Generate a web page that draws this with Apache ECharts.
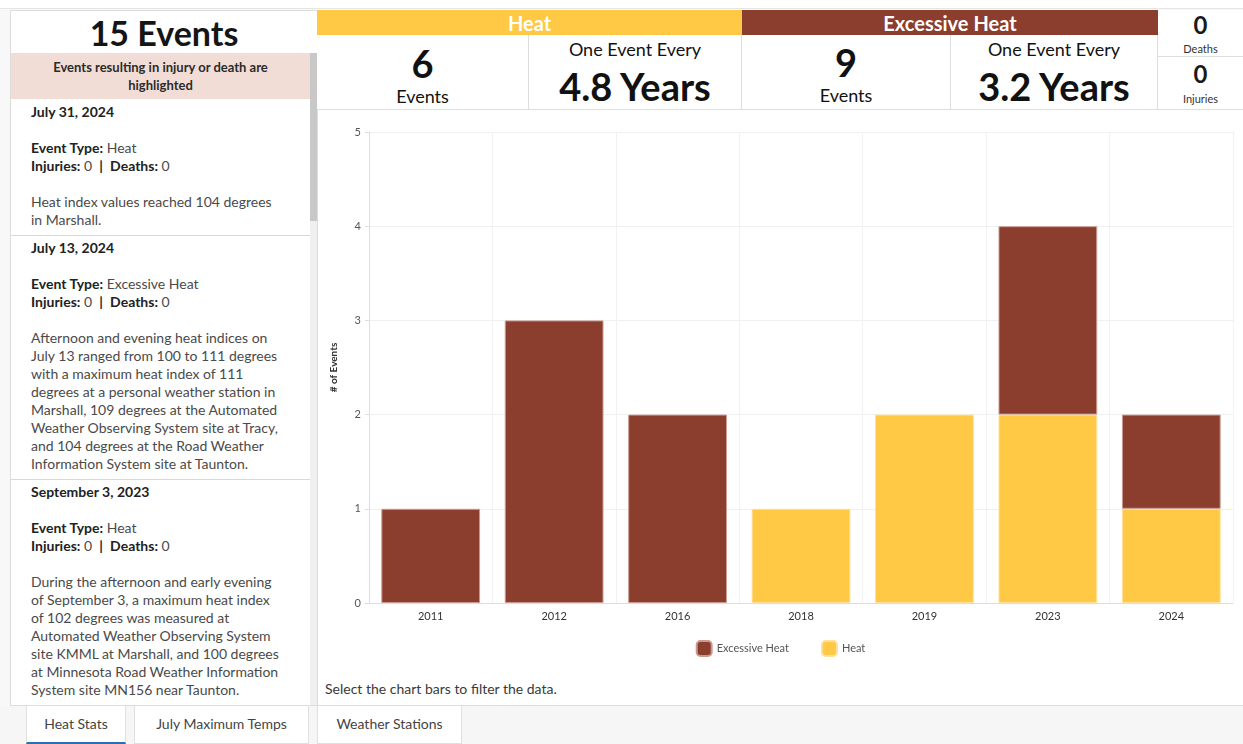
<!DOCTYPE html>
<html>
<head>
<meta charset="utf-8">
<script src="https://cdn.jsdelivr.net/npm/echarts@6/dist/echarts.min.js"></script>
<style>
  html,body{margin:0;padding:0;width:1243px;height:744px;overflow:hidden;background:#f8f8f8;font-family:Lato,"Noto Sans",sans-serif;color:#1a1a1a;}
  .abs{position:absolute;box-sizing:border-box;}
  #topline{left:0;top:0;width:1243px;height:9px;background:#fff;border-bottom:1px solid #e6e6e6;}
  #left{left:10px;top:10px;width:308px;height:696px;background:#fff;border:1px solid #ddd;overflow:hidden;}
  #total{left:0;top:0;width:306px;height:42px;text-align:center;font-size:34px;line-height:44px;font-weight:700;color:#151515;}
  #banner{left:0;top:42px;width:299px;height:46px;background:#f2ddd6;text-align:center;font-size:13px;font-weight:700;line-height:18px;padding-top:5px;color:#2b2b2b;}
  #track{left:299px;top:42px;width:8px;height:654px;background:#f0f0f0;}
  #thumb{left:299px;top:42px;width:8px;height:168px;background:#c8c8c8;}
  .item{left:0;width:299px;border-bottom:1px solid #d8d8d8;padding-left:20px;font-size:14px;line-height:18px;color:#4a4a4a;white-space:nowrap;}
  .item b{color:#222;}
  .date{font-weight:700;color:#222;}
  .hdr{top:10px;height:25px;color:#fff;font-weight:700;font-size:20px;text-align:center;line-height:26px;}
  .cell{top:35px;height:75px;background:#fff;border-right:1px solid #ddd;border-bottom:1px solid #ddd;text-align:center;color:#111;}
  .big{font-size:38px;font-weight:700;line-height:40px;}
  .lbl{font-size:18px;line-height:22px;}
  .sm{font-size:11px;line-height:13px;color:#333;}
  #chartwrap{left:318px;top:110px;width:925px;height:596px;background:#fff;border-bottom:1px solid #ddd;}
  #chart{left:0;top:0;width:925px;height:565px;}
  #note{left:7px;top:570px;font-size:14px;color:#3a3a3a;}
  #tabs{left:0;top:706px;width:1243px;height:38px;background:#f6f6f6;}
  .tab{top:0;height:38px;background:#fff;border:1px solid #e0e0e0;border-top:none;font-size:14px;color:#444;text-align:center;line-height:36px;}
</style>
</head>
<body>
<div class="abs" id="topline"></div>

<div class="abs" id="left">
  <div class="abs" id="total">15 Events</div>
  <div class="abs" id="banner">Events resulting in injury or death are<br>highlighted</div>
  <div class="abs" id="track"></div>
  <div class="abs" id="thumb"></div>
  <div class="abs item" style="top:92px;height:133px;">
    <div class="date">July 31, 2024</div>
    <div style="height:18px"></div>
    <div><b>Event Type:</b> Heat</div>
    <div><b>Injuries:</b> 0&nbsp; <b>|</b>&nbsp; <b>Deaths:</b> 0</div>
    <div style="height:18px"></div>
    <div>Heat index values reached 104 degrees<br>in Marshall.</div>
  </div>
  <div class="abs item" style="top:225px;height:244px;padding-top:3px;">
    <div class="date">July 13, 2024</div>
    <div style="height:18px"></div>
    <div><b>Event Type:</b> Excessive Heat</div>
    <div><b>Injuries:</b> 0&nbsp; <b>|</b>&nbsp; <b>Deaths:</b> 0</div>
    <div style="height:18px"></div>
    <div>Afternoon and evening heat indices on<br>July 13 ranged from 100 to 111 degrees<br>with a maximum heat index of 111<br>degrees at a personal weather station in<br>Marshall, 109 degrees at the Automated<br>Weather Observing System site at Tracy,<br>and 104 degrees at the Road Weather<br>Information System site at Taunton.</div>
  </div>
  <div class="abs item" style="top:469px;height:230px;padding-top:3px;border-bottom:none;">
    <div class="date">September 3, 2023</div>
    <div style="height:18px"></div>
    <div><b>Event Type:</b> Heat</div>
    <div><b>Injuries:</b> 0&nbsp; <b>|</b>&nbsp; <b>Deaths:</b> 0</div>
    <div style="height:18px"></div>
    <div>During the afternoon and early evening<br>of September 3, a maximum heat index<br>of 102 degrees was measured at<br>Automated Weather Observing System<br>site KMML at Marshall, and 100 degrees<br>at Minnesota Road Weather Information<br>System site MN156 near Taunton.</div>
  </div>
</div>

<div class="abs hdr" style="left:317px;width:425px;background:#ffc845;">Heat</div>
<div class="abs hdr" style="left:742px;width:416px;background:#8b3d2e;">Excessive Heat</div>

<div class="abs cell" style="left:317px;width:212px;">
  <div class="big" style="margin-top:8px;">6</div>
  <div class="lbl" style="margin-top:2px;">Events</div>
</div>
<div class="abs cell" style="left:529px;width:213px;">
  <div class="lbl" style="margin-top:3px;">One Event Every</div>
  <div class="big" style="margin-top:6px;">4.8 Years</div>
</div>
<div class="abs cell" style="left:742px;width:209px;">
  <div class="big" style="margin-top:7px;">9</div>
  <div class="lbl" style="margin-top:2px;">Events</div>
</div>
<div class="abs cell" style="left:951px;width:207px;">
  <div class="lbl" style="margin-top:3px;">One Event Every</div>
  <div class="big" style="margin-top:6px;">3.2 Years</div>
</div>
<div class="abs" style="left:1158px;top:10px;width:85px;height:47px;background:#fff;border-bottom:1px solid #ddd;text-align:center;">
  <div style="font-size:24px;font-weight:700;line-height:28px;margin-top:1px;">0</div>
  <div class="sm" style="margin-top:3px;">Deaths</div>
</div>
<div class="abs" style="left:1158px;top:57px;width:85px;height:53px;background:#fff;border-bottom:1px solid #ddd;text-align:center;">
  <div style="font-size:24px;font-weight:700;line-height:28px;margin-top:3px;">0</div>
  <div class="sm" style="margin-top:4px;">Injuries</div>
</div>

<div class="abs" id="chartwrap">
  <div class="abs" id="chart"></div>
  <div class="abs" id="note">Select the chart bars to filter the data.</div>
</div>

<div class="abs" id="tabs">
  <div class="abs tab" style="left:26px;width:100px;border-bottom:2px solid #2a6db0;">Heat Stats</div>
  <div class="abs tab" style="left:134px;width:175px;">July Maximum Temps</div>
  <div class="abs tab" style="left:317px;width:145px;">Weather Stations</div>
</div>

<script>
const years = ['2011', '2012', '2016', '2018', '2019', '2023', '2024'];
const heat = [0, 0, 0, 1, 2, 2, 1];
const excessiveHeat = [1, 3, 2, 0, 0, 2, 1];
const yTicks = [0, 1, 2, 3, 4, 5];

const chart = echarts.init(document.getElementById('chart'));
chart.setOption({
  animation: false,
  textStyle: {fontFamily: 'Lato, "Noto Sans", sans-serif'},
  grid: {left: 51, top: 22, right: 10, bottom: 72},
  legend: {
    data: ['Excessive Heat', 'Heat'],
    bottom: 13,
    left: 'center',
    icon: 'roundRect',
    itemWidth: 15,
    itemHeight: 15,
    itemGap: 32,
    textStyle: {fontSize: 11, color: '#555'}
  },
  xAxis: {
    type: 'category',
    data: years,
    axisLine: {lineStyle: {color: '#ddd'}},
    axisTick: {alignWithLabel: true, length: 4, lineStyle: {color: '#ddd'}},
    axisLabel: {fontSize: 11, color: '#333', margin: 8},
    splitLine: {show: true, lineStyle: {color: '#f2f2f2'}}
  },
  yAxis: {
    type: 'value',
    min: yTicks[0],
    max: yTicks[yTicks.length - 1],
    interval: 1,
    name: '# of Events',
    nameLocation: 'middle',
    nameGap: 30,
    nameTextStyle: {fontSize: 10, fontWeight: 'bold', color: '#333'},
    axisLine: {show: true, lineStyle: {color: '#ddd'}},
    axisTick: {show: true, length: 4, lineStyle: {color: '#ddd'}},
    axisLabel: {fontSize: 11, color: '#555', margin: 8},
    splitLine: {lineStyle: {color: '#f0f0f0'}}
  },
  series: [
    {
      name: 'Heat', type: 'bar', stack: 'total', barWidth: '80%',
      data: heat.map(v => v === 0 ? '-' : v),
      itemStyle: {color: '#ffc845', borderColor: '#ffe09a', borderWidth: 1}
    },
    {
      name: 'Excessive Heat', type: 'bar', stack: 'total', barWidth: '80%',
      data: excessiveHeat.map(v => v === 0 ? '-' : v),
      itemStyle: {color: '#8b3d2e', borderColor: '#c99a90', borderWidth: 1}
    }
  ]
});
</script>
</body>
</html>
